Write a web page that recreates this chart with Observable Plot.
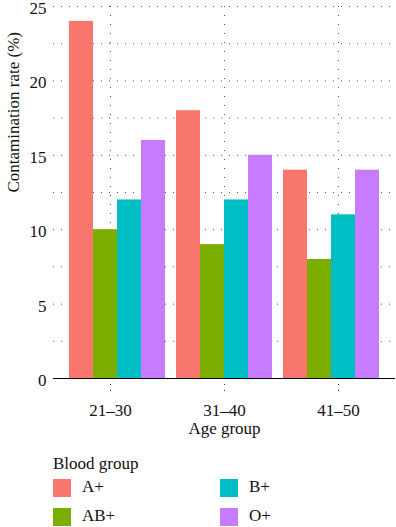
<!DOCTYPE html>
<html>
<head>
<meta charset="utf-8">
<script src="https://cdn.jsdelivr.net/npm/d3@7"></script>
<script src="https://cdn.jsdelivr.net/npm/@observablehq/plot@0.6"></script>
<style>
  html, body { margin: 0; padding: 0; background: #fff; }
  #wrap { position: relative; width: 396px; height: 527px; font-family: "Liberation Serif", "Times New Roman", Times, serif; color: #111; }
  #wrap svg { position: absolute; left: 0; top: 0; background: transparent !important; }
  .leg-title { position: absolute; left: 53px; top: 454px; font-size: 17px; line-height: 20px; }
  .sw { position: absolute; width: 18px; height: 18px; }
  .lab { position: absolute; font-size: 17px; line-height: 18px; }
</style>
</head>
<body>
<div id="wrap"></div>
<script>
// ---- data ----
const ageGroups = ["21–30", "31–40", "41–50"];
const bloodGroups = ["A+", "AB+", "B+", "O+"];
const aPlus  = [24, 18, 14];
const abPlus = [10, 9, 8];
const bPlus  = [12, 12, 11];
const oPlus  = [16, 15, 14];
const groupColors = ["#F8766D", "#7CAE00", "#00BFC4", "#C77CFF"];
const yMajorTicks = [0, 5, 10, 15, 20, 25];
const yMinorTicks = [2.5, 7.5, 12.5, 17.5, 22.5];

const series = [aPlus, abPlus, bPlus, oPlus];
const rows = [];
ageGroups.forEach((age, i) => {
  bloodGroups.forEach((g, j) => rows.push({age, group: g, value: series[j][i]}));
});

const W = 396, H = 445;
const FONT = '"Liberation Serif", "Times New Roman", Times, serif';
const margins = {marginLeft: 53, marginRight: 1, marginTop: 6, marginBottom: 67};
const style = {fontFamily: FONT, fontSize: "17px", color: "#111", background: "transparent", overflow: "visible"};
const pad = {paddingInner: 0.1, paddingOuter: 0.148};

const wrap = document.getElementById("wrap");

// background layer: grid, axes, titles
const back = Plot.plot({
  width: W, height: H, ...margins, style,
  x: {domain: ageGroups, ...pad, axis: null},
  y: {domain: [0, 25], axis: null},
  marks: [
    Plot.ruleY(yMajorTicks.concat(yMinorTicks), {stroke: "#555", strokeWidth: 1, strokeDasharray: "1,7"}),
    Plot.ruleX(ageGroups, {x: d => d, stroke: "#555", strokeWidth: 1, strokeDasharray: "1,8"}),
    Plot.axisY(yMajorTicks, {tickSize: 0, tickPadding: 7, label: null, fontSize: 17, fontFamily: FONT, dy: 2}),
    Plot.axisX(ageGroups, {tickSize: 18, tickPadding: 7, label: null, strokeDasharray: "1,5", stroke: "#333", fontSize: 17, fontFamily: FONT}),
    Plot.ruleY([0], {stroke: "#000", strokeWidth: 1.2}),
    Plot.text(["Age group"], {frameAnchor: "bottom", dy: 55, fontSize: 17, fontFamily: FONT}),
    Plot.text(["Contamination rate (%)"], {frameAnchor: "left", dx: -40, rotate: -90, fontSize: 17, fontFamily: FONT})
  ]
});
wrap.appendChild(back);

// bar layer (faceted by age group)
const bars = Plot.plot({
  width: W, height: H, ...margins, style,
  fx: {domain: ageGroups, ...pad, axis: null},
  x: {domain: bloodGroups, padding: 0, axis: null},
  y: {domain: [0, 25], axis: null},
  color: {domain: bloodGroups, range: groupColors},
  marks: [
    Plot.barY(rows, {fx: "age", x: "group", y: "value", fill: "group"}),
    Plot.ruleY([0], {stroke: "#000", strokeWidth: 1.2})
  ]
});
wrap.appendChild(bars);

// legend
const t = document.createElement("div");
t.className = "leg-title";
t.textContent = "Blood group";
wrap.appendChild(t);
const pos = [[53, 479], [53, 508], [220, 479], [220, 508]];
bloodGroups.forEach((g, i) => {
  const s = document.createElement("div");
  s.className = "sw";
  s.style.left = pos[i][0] + "px";
  s.style.top = pos[i][1] + "px";
  s.style.background = groupColors[i];
  wrap.appendChild(s);
  const l = document.createElement("div");
  l.className = "lab";
  l.style.left = (pos[i][0] + 29) + "px";
  l.style.top = (pos[i][1] - 1) + "px";
  l.textContent = g;
  wrap.appendChild(l);
});
</script>
</body>
</html>
